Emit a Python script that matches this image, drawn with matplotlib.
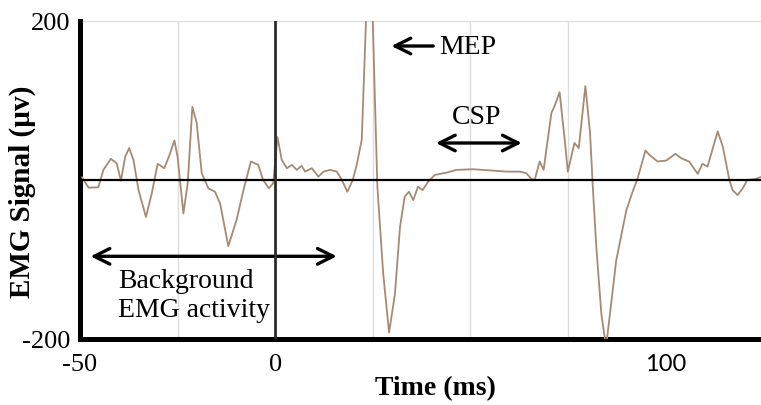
import matplotlib
matplotlib.use('Agg')
import matplotlib.pyplot as plt

# EMG trace (time in ms, signal in microvolts)
time_ms = [-49.5, -47.8, -45.3, -44.0, -42.1, -40.6, -39.5, -38.4, -37.4, -36.3,
           -35.0, -33.1, -31.6, -30.1, -28.4, -27.2, -25.8, -25.0, -23.5, -22.4,
           -21.2, -20.1, -18.8, -17.1, -15.4, -14.1, -12.0, -9.9, -7.9, -6.2,
           -4.3, -3.1, -1.6, -0.5, 0.6, 1.7, 3.0, 4.3, 5.5, 6.8,
           7.7, 9.4, 11.1, 12.4, 14.1, 15.8, 17.1, 18.5, 19.9, 20.9,
           22.2, 23.3, 24.0, 25.0, 26.2, 27.7, 29.2, 30.7, 32.0, 33.2,
           34.3, 35.4, 36.6, 37.8, 39.2, 40.9, 43.9, 46.5, 50.7, 55.8,
           59.3, 62.7, 64.4, 65.7, 66.5, 67.8, 68.8, 70.8, 71.6, 72.9,
           74.2, 75.0, 76.7, 77.8, 79.5, 80.7, 81.4, 82.3, 83.6, 84.8,
           87.4, 90.0, 91.6, 92.9, 94.9, 95.9, 98.0, 100.2, 102.6, 104.0,
           106.1, 108.3, 109.5, 110.8, 113.4, 114.7, 116.4, 117.2, 118.5, 119.8,
           121.0, 122.8, 124.3]
emg_uv = [3.4, -9.7, -9.2, 12.7, 26.6, 21.1, -0.9, 29.5, 40.1, 25.3,
          -12.7, -46.5, -16.8, 20.3, 14.8, 29.5, 49.7, 29.5, -42.2, -4.2,
          92.0, 71.8, 8.5, -10.5, -14.8, -29.5, -83.2, -50.6, -8.5, 23.2,
          19.0, 0.0, -10.5, -4.2, 54.0, 25.3, 14.8, 19.0, 12.7, 17.7,
          10.5, 14.8, 4.2, 10.5, 12.7, 10.5, 0.0, -14.8, 0.0, 19.0,
          50.6, 202.5, 280.0, 202.5, -8.5, -118.1, -192.0, -143.4, -59.1, -21.1,
          -14.8, -25.3, -8.5, -12.7, -2.2, 6.3, 9.2, 12.7, 13.5, 11.8,
          10.5, 10.5, 8.5, 0.9, 0.0, 23.2, 12.7, 84.4, 92.8, 110.5,
          50.6, 10.5, 46.5, 40.1, 118.1, 59.1, -8.5, -84.4, -168.7, -210.0,
          -101.3, -38.0, -14.8, 2.2, 37.1, 31.6, 23.2, 24.4, 32.9, 27.5,
          23.2, 7.6, 20.3, 16.8, 61.1, 42.2, 0.0, -12.7, -19.0, -10.5,
          0.0, 0.9, 3.4]

x_ticks = [-50, 0, 100]
y_ticks = [-200, 200]

serif = ['Liberation Serif', 'DejaVu Serif']

fig = plt.figure(figsize=(7.61, 4.06), dpi=100)
ax = fig.add_axes([0.1051, 0.1626, 0.8949, 0.7833])

ax.plot(time_ms, emg_uv, color='#a58a74', lw=1.3, zorder=3)
ax.set_xlim(-50, 124.5)
ax.set_ylim(-200, 200)

# light grid every 25 ms, plus the top line
ax.set_xticks(range(-25, 125, 25), minor=True)
ax.grid(which='minor', axis='x', color='#dcdcdc', lw=1)
ax.axhline(200, color='#dcdcdc', lw=1.5, zorder=1)
ax.tick_params(which='minor', length=0)

# zero lines
ax.axhline(0, color='black', lw=1.6, zorder=4)
ax.axvline(0, color='#2b2b2b', lw=2, zorder=4)

for s in ['top', 'right']:
    ax.spines[s].set_visible(False)
ax.spines['left'].set_linewidth(3.6)
ax.spines['bottom'].set_linewidth(3.6)

ax.set_xticks(x_ticks)
ax.set_xticklabels([str(v) for v in x_ticks])
ax.set_yticks(y_ticks)
ax.set_yticklabels([str(v) for v in y_ticks])
ax.tick_params(length=0, labelsize=19)
ax.tick_params(axis='x', pad=10)
ax.tick_params(axis='y', pad=7)
for lab in ax.get_yticklabels():
    lab.set_family(serif)
for lab in ax.get_xticklabels():
    lab.set_family(serif)
ax.get_xticklabels()[-1].set_family(['Lato', 'DejaVu Sans'])
ax.get_xticklabels()[-1].set_fontsize(17)

fig.text(0.029, 0.527, 'EMG Signal (\u00b5v)', rotation=90, ha='center', va='center',
         fontsize=21, fontweight='bold', family=serif)
fig.text(0.5716, 0.044, 'Time (ms)', ha='center', va='center',
         fontsize=20, fontweight='bold', family=serif)

# annotations
arrow = dict(arrowstyle='<->', lw=2.4, color='black', mutation_scale=28, shrinkA=0, shrinkB=0)
ax.annotate('', xy=(-47.3, -96), xytext=(15.8, -96), arrowprops=arrow)
ax.text(-40.2, -145, 'Background\nEMG activity', ha='left', va='center',
        fontsize=20, family=serif, linespacing=1.2)

ax.annotate('', xy=(41.2, 46.5), xytext=(63.2, 46.5), arrowprops=arrow)
ax.text(51.7, 80, 'CSP', ha='center', va='center', fontsize=20, family=serif)

ax.annotate('', xy=(29.8, 168.5), xytext=(40.5, 168.5),
            arrowprops=dict(arrowstyle='->', lw=2.4, color='black', mutation_scale=28,
                            shrinkA=0, shrinkB=0))
ax.text(42.0, 168, 'MEP', ha='left', va='center', fontsize=20, family=serif)

fig.savefig('out.png', dpi=100)
plt.close(fig)
